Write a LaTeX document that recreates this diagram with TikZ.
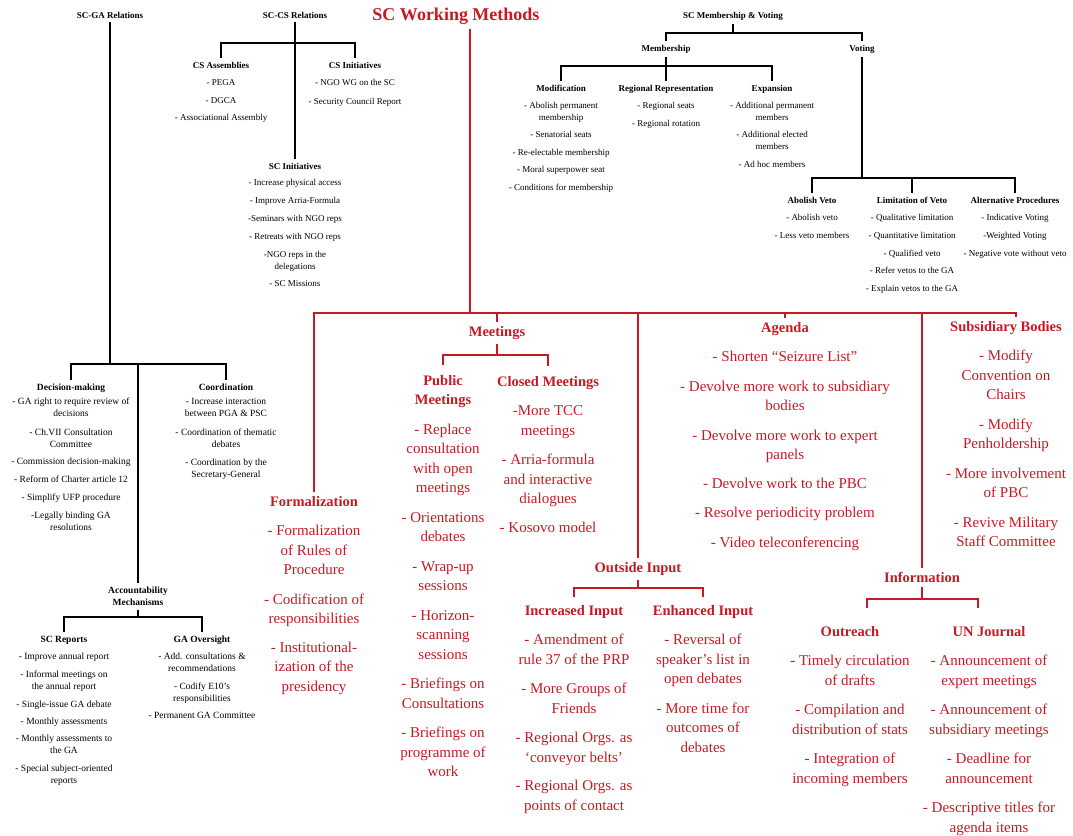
\documentclass[tikz,border=0pt]{standalone}
\usepackage{fontspec}
\setmainfont{Liberation Serif}
\definecolor{wred}{RGB}{200,25,35}
\newcommand\rtitle[1]{{\fontsize{14.5}{19.5}\selectfont\bfseries #1}}
\begin{document}
\begin{tikzpicture}[x=1pt,y=-1pt,
 bt/.style={font=\fontsize{9}{12}\selectfont, align=center, inner xsep=0pt, inner ysep=4pt, anchor=north, text=black},
 btl/.style={bt, font=\fontsize{9.5}{12}\selectfont},
 rt/.style={font=\fontsize{15}{19.5}\selectfont, align=center, inner xsep=0pt, inner ysep=4pt, anchor=north, text=wred},
 bl/.style={draw=black, line width=1.2pt},
 rl/.style={draw=wred, line width=1.3pt},
]
\useasboundingbox (0,0) rectangle (1073,835);

% ---------------- black: SC Membership & Voting
\node[bt] (smv) at (733,7.7) {\textbf{SC Membership \& Voting}};
\node[bt] (memb) at (666,40.7) {\textbf{Membership}};
\node[bt] (voting) at (862,40.7) {\textbf{Voting}};
\node[bt] (modif) at (561,80.7) {\textbf{Modification}\\[5pt]- Abolish permanent\\membership\\[5.5pt]- Senatorial seats\\[5.5pt]- Re-electable membership\\[5.5pt]- Moral superpower seat\\[5.5pt]- Conditions for membership};
\node[bt] (regrep) at (666,80.7) {\textbf{Regional Representation}\\[5pt]- Regional seats\\[6pt]- Regional rotation};
\node[bt] (expan) at (772,80.7) {\textbf{Expansion}\\[5pt]- Additional permanent\\members\\[5.5pt]- Additional elected\\members\\[5.5pt]- Ad hoc members};
\node[bt] (abveto) at (812,192.7) {\textbf{Abolish Veto}\\[5pt]- Abolish veto\\[6pt]- Less veto members};
\node[bt] (limveto) at (912,192.7) {\textbf{Limitation of Veto}\\[5pt]- Qualitative limitation\\[6pt]- Quantitative limitation\\[6pt]- Qualified veto\\[5.5pt]- Refer vetos to the GA\\[6pt]- Explain vetos to the GA};
\node[bt] (altproc) at (1015,192.7) {\textbf{Alternative Procedures}\\[5pt]- Indicative Voting\\[6pt]-Weighted Voting\\[6pt]- Negative vote without veto};

\coordinate (b1) at (733,33);
\draw[bl] (smv.south) -- (smv.south |- b1);
\draw[bl] (memb.north) -- (memb.north |- b1) -- (voting.north |- b1) -- (voting.north);
\coordinate (b2) at (666,66);
\draw[bl] (memb.south) -- (memb.south |- b2);
\draw[bl] (modif.north) -- (modif.north |- b2) -- (expan.north |- b2) -- (expan.north);
\draw[bl] (regrep.north) -- (regrep.north |- b2);
\coordinate (b3) at (862,178);
\draw[bl] (voting.south) -- (voting.south |- b3);
\draw[bl] (abveto.north) -- (abveto.north |- b3) -- (altproc.north |- b3) -- (altproc.north);
\draw[bl] (limveto.north) -- (limveto.north |- b3);

% ---------------- black: SC-CS Relations
\node[bt] (sccs) at (295,7.7) {\textbf{SC-CS Relations}};
\node[bt] (csass) at (221,57.7) {\textbf{CS Assemblies}\\[5pt]- PEGA\\[6pt]- DGCA\\[5pt]- Associational Assembly};
\node[bt] (csini) at (355,57.7) {\textbf{CS Initiatives}\\[5pt]- NGO WG on the SC\\[7pt]- Security Council Report};
\node[bt] (scini) at (295,158.7) {\textbf{SC Initiatives}\\[4pt]- Increase physical access\\[6pt]- Improve Arria-Formula\\[6pt]-Seminars with NGO reps\\[6pt]- Retreats with NGO reps\\[6pt]-NGO reps in the\\delegations\\[5pt]- SC Missions};
\coordinate (b4) at (295,43);
\draw[bl] (sccs.south) -- (scini.north);
\draw[bl] (csass.north) -- (csass.north |- b4) -- (csini.north |- b4) -- (csini.north);

% ---------------- black: SC-GA Relations
\node[bt] (scga) at (110,7.7) {\textbf{SC-GA Relations}};
\node[btl] (decm) at (71,379.7) {\textbf{Decision-making}\\[2pt]- GA right to require review of\\decisions\\[7pt]- Ch.VII Consultation\\Committee\\[5pt]- Commission decision-making\\[6pt]- Reform of Charter article 12\\[6pt]- Simplify UFP procedure\\[6pt]-Legally binding GA\\resolutions};
\node[btl] (coord) at (226,379.7) {\textbf{Coordination}\\[2pt]- Increase interaction\\between PGA \& PSC\\[7pt]- Coordination of thematic\\debates\\[6pt]- Coordination by the\\Secretary-General};
\node[btl] (accm) at (138,582.7) {\textbf{Accountability}\\\textbf{Mechanisms}};
\node[btl] (screp) at (64,631.7) {\textbf{SC Reports}\\[5pt]- Improve annual report\\[6pt]- Informal meetings on\\the annual report\\[6pt]- Single-issue GA debate\\[5pt]- Monthly assessments\\[5pt]- Monthly assessments to\\the GA\\[6pt]- Special subject-oriented\\reports};
\node[btl] (gaov) at (202,631.7) {\textbf{GA Oversight}\\[5pt]- Add. consultations \&\\recommendations\\[6pt]- Codify E10's\\responsibilities\\[5pt]- Permanent GA Committee};
\coordinate (b5) at (110,364);
\draw[bl] (scga.south) -- (scga.south |- b5);
\draw[bl] (decm.north) -- (decm.north |- b5) -- (coord.north |- b5) -- (coord.north);
\draw[bl] (accm.north) -- (accm.north |- b5);
\coordinate (b6) at (138,617);
\draw[bl] (accm.south) -- (accm.south |- b6);
\draw[bl] (screp.north) -- (screp.north |- b6) -- (gaov.north |- b6) -- (gaov.north);

% ---------------- red: SC Working Methods
\node[rt, font=\fontsize{18}{22}\selectfont\bfseries] (scwm) at (456,3.8) {SC Working Methods};
\node[rt] (meet) at (497,322.2) {\rtitle{Meetings}};
\node[rt] (form) at (314,492.2) {\rtitle{Formalization}\\[10pt]- Formalization\\of Rules of\\Procedure\\[10pt]- Codification of\\responsibilities\\[9pt]- Institutional-\\ization of the\\presidency};
\node[rt] (agenda) at (785,318.2) {\rtitle{Agenda}\\[10pt]- Shorten “Seizure List”\\[10pt]- Devolve more work to subsidiary\\bodies\\[10pt]- Devolve more work to expert\\panels\\[9pt]- Devolve work to the PBC\\[10pt]- Resolve periodicity problem\\[10pt]- Video teleconferencing};
\node[rt] (subs) at (1006,317.2) {\rtitle{Subsidiary Bodies}\\[10pt]- Modify\\Convention on\\Chairs\\[10pt]- Modify\\Penholdership\\[10pt]- More involvement\\of PBC\\[10pt]- Revive Military\\Staff Committee};
\node[rt] (pubm) at (443,371.2) {\rtitle{Public}\\\rtitle{Meetings}\\[10pt]- Replace\\consultation\\with open\\meetings\\[10pt]- Orientations\\debates\\[10pt]- Wrap-up\\sessions\\[10pt]- Horizon-\\scanning\\sessions\\[10pt]- Briefings on\\Consultations\\[10pt]- Briefings on\\programme of\\work};
\node[rt] (closm) at (548,372.2) {\rtitle{Closed Meetings}\\[10pt]-More TCC\\meetings\\[10pt]- Arria-formula\\and interactive\\dialogues\\[9pt]- Kosovo model};
\node[rt] (outin) at (638,558.2) {\rtitle{Outside Input}};
\node[rt] (incin) at (574,601.2) {\rtitle{Increased Input}\\[10pt]- Amendment of\\rule 37 of the PRP\\[10pt]- More Groups of\\Friends\\[10pt]- Regional Orgs. as\\‘conveyor belts’\\[9pt]- Regional Orgs. as\\points of contact};
\node[rt] (enhin) at (703,601.2) {\rtitle{Enhanced Input}\\[10pt]- Reversal of\\speaker’s list in\\open debates\\[10pt]- More time for\\outcomes of\\debates};
\node[rt] (info) at (922,568.2) {\rtitle{Information}};
\node[rt] (outr) at (850,622.2) {\rtitle{Outreach}\\[10pt]- Timely circulation\\of drafts\\[10pt]- Compilation and\\distribution of stats\\[10pt]- Integration of\\incoming members};
\node[rt] (unj) at (989,622.2) {\rtitle{UN Journal}\\[10pt]- Announcement of\\expert meetings\\[10pt]- Announcement of\\subsidiary meetings\\[10pt]- Deadline for\\announcement\\[10pt]- Descriptive titles for\\agenda items};

\coordinate (rb) at (470,313);
\coordinate (wmx) at (470,0);
\coordinate (subx) at (1016,313);
\draw[rl] (scwm.south -| wmx) -- (rb);
\draw[rl] (form.north) -- (form.north |- rb) -- (subx) -- (subx |- subs.north);
\draw[rl] (meet.north) -- (meet.north |- rb);
\draw[rl] (outin.north) -- (outin.north |- rb);
\draw[rl] (agenda.north) -- (agenda.north |- rb);
\draw[rl] (info.north) -- (info.north |- rb);

\coordinate (mb) at (497,355);
\draw[rl] (meet.south) -- (meet.south |- mb);
\draw[rl] ([yshift=6pt]pubm.north) -- (pubm.north |- mb) -- (closm.north |- mb) -- ([yshift=6pt]closm.north);

\coordinate (ob) at (638,588);
\draw[rl] (outin.south) -- (outin.south |- ob);
\draw[rl] ([yshift=4pt]incin.north) -- (incin.north |- ob) -- (enhin.north |- ob) -- ([yshift=4pt]enhin.north);

\coordinate (ibl) at (867,599);
\coordinate (ibr) at (978,599);
\coordinate (ibl2) at (867,608);
\coordinate (ibr2) at (978,608);
\draw[rl] (info.south) -- (info.south |- ibl);
\draw[rl] (ibl2) -- (ibl) -- (ibr) -- (ibr2);
\end{tikzpicture}
\end{document}
